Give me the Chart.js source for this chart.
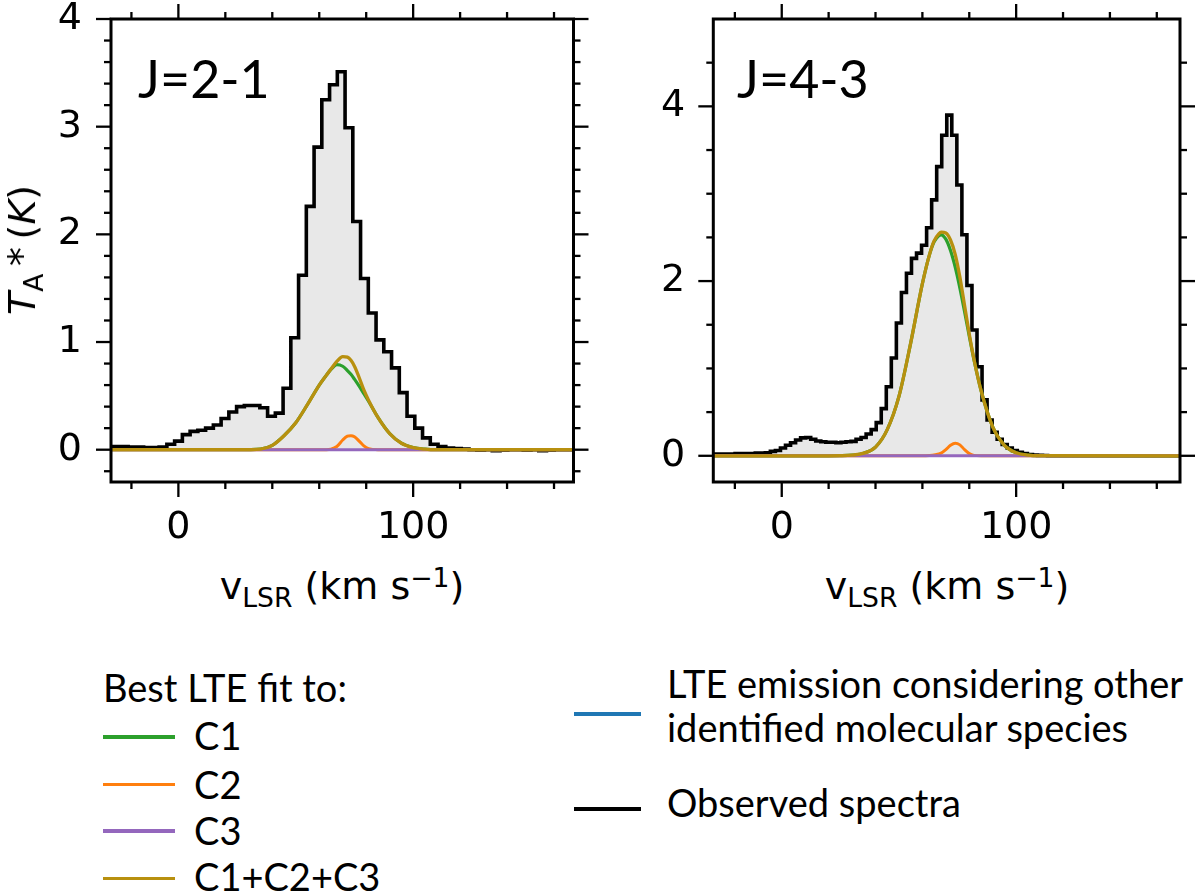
<!DOCTYPE html>
<html>
<head>
<meta charset="utf-8">
<script src="https://cdn.jsdelivr.net/npm/chart.js@4.4.1/dist/chart.umd.min.js"></script>
<style>
  html, body { margin: 0; padding: 0; background: #fff; }
  body { width: 1200px; height: 894px; position: relative; overflow: hidden; }
  canvas { position: absolute; top: 0; }
  .txt { position: absolute; white-space: nowrap; color: #000; line-height: 1; }
  .dv { font-family: 'DejaVu Sans', sans-serif; font-size: 38px; }
  .gs { font-family: 'Lato', sans-serif; font-size: 38px; }
  .sub { font-size: 70%; position: relative; top: 0.3em; }
  .sup { font-size: 70%; position: relative; top: -0.45em; }
  .swatch { position: absolute; height: 3.5px; }
</style>
</head>
<body>
<canvas id="panel21" width="600" height="560" style="left:0px"></canvas>
<canvas id="panel43" width="600" height="560" style="left:600px"></canvas>

<div class="txt dv" style="left:22px; top:250px; transform: translate(-50%, -50%) rotate(-90deg);"><i>T</i><span class="sub">A</span>&#8201;*&#8201;(<i>K</i>)</div>
<div class="txt dv" style="left:342px; top:567px; transform: translateX(-50%);">v<span class="sub">LSR</span> (km s<span class="sup">&#8722;1</span>)</div>
<div class="txt dv" style="left:947px; top:567px; transform: translateX(-50%);">v<span class="sub">LSR</span> (km s<span class="sup">&#8722;1</span>)</div>

<div class="txt gs" style="left:138px; top:52px; font-size:52px;">J=2-1</div>
<div class="txt gs" style="left:737px; top:52px; font-size:52px;">J=4-3</div>

<!-- legend -->
<div class="txt gs" style="left:103px; top:668px;">Best LTE fit to:</div>
<div class="swatch" style="left:103px; top:735px; width:72px; background:#2ca02c;"></div>
<div class="txt gs" style="left:194px; top:716px;">C1</div>
<div class="swatch" style="left:103px; top:782.5px; width:72px; background:#ff7f0e;"></div>
<div class="txt gs" style="left:194px; top:765px;">C2</div>
<div class="swatch" style="left:103px; top:829px; width:72px; background:#9467bd;"></div>
<div class="txt gs" style="left:194px; top:811px;">C3</div>
<div class="swatch" style="left:103px; top:876.5px; width:72px; background:#b8900f;"></div>
<div class="txt gs" style="left:194px; top:857px;">C1+C2+C3</div>

<div class="swatch" style="left:574px; top:712px; width:67px; background:#1f77b4;"></div>
<div class="txt gs" style="left:667px; top:664px;">LTE emission considering other</div>
<div class="txt gs" style="left:667px; top:708px;">identified molecular species</div>
<div class="swatch" style="left:574px; top:807px; width:67px; background:#000;"></div>
<div class="txt gs" style="left:667px; top:783px;">Observed spectra</div>

<script>
// ---- J=2-1 observed spectrum: channel centre (km/s) and T_A* (K)
const vel21 = [-29.65, -26.35, -23.05, -19.75, -16.45, -13.15, -9.85, -6.55, -3.25, 0.05,
  3.35, 6.65, 9.95, 13.25, 16.55, 19.85, 23.15, 26.45, 29.75, 33.05,
  36.35, 39.65, 42.95, 46.25, 49.55, 52.85, 56.15, 59.45, 62.75, 66.05,
  69.35, 72.65, 75.95, 79.25, 82.55, 85.85, 89.15, 92.45, 95.75, 99.05,
  102.35, 105.65, 108.95, 112.25, 115.55, 118.85, 122.15, 125.45, 128.75, 132.05,
  135.35, 138.65, 141.95, 145.25, 148.55, 151.85, 155.15, 158.45, 161.75, 165.05,
  168.35, 171.65];
const obs21 = [0.03, 0.03, 0.03, 0.025, 0.025, 0.02, 0.02, 0.025, 0.05, 0.08,
  0.14, 0.17, 0.18, 0.20, 0.23, 0.29, 0.35, 0.40, 0.41, 0.41,
  0.39, 0.31, 0.34, 0.57, 1.04, 1.62, 2.26, 2.81, 3.25, 3.39,
  3.51, 2.99, 2.12, 1.59, 1.27, 1.02, 0.91, 0.76, 0.53, 0.31,
  0.20, 0.11, 0.05, 0.03, 0.015, 0.01, 0.005, 0, -0.005, 0,
  -0.01, -0.005, 0, 0, -0.005, 0, -0.01, -0.005, 0, 0,
  0, 0];

// ---- J=2-1 LTE fits
const fitVel21 = [-30, 25, 30, 35, 40, 45, 50, 55, 60, 63, 65, 67.5, 70, 72, 73.5, 75, 77, 79, 81, 85, 90, 95, 100, 105, 110, 170];
const c1_21 = [0, 0, 0.001, 0.005, 0.04, 0.13, 0.25, 0.42, 0.60, 0.69, 0.745, 0.79, 0.775, 0.735, 0.70, 0.655, 0.59, 0.52, 0.45, 0.30, 0.15, 0.06, 0.02, 0.005, 0, 0];
const c2_21 = [0, 0, 0, 0, 0, 0, 0, 0, 0, 0, 0.005, 0.03, 0.09, 0.125, 0.13, 0.12, 0.08, 0.035, 0.01, 0, 0, 0, 0, 0, 0, 0];
const c3_21 = [0, 0, 0, 0, 0, 0, 0, 0, 0, 0, 0, 0, 0, 0, 0, 0, 0, 0, 0, 0, 0, 0, 0, 0, 0, 0];
const sum21 = [0, 0, 0.001, 0.005, 0.04, 0.13, 0.25, 0.42, 0.60, 0.69, 0.75, 0.82, 0.865, 0.86, 0.83, 0.775, 0.67, 0.555, 0.46, 0.30, 0.15, 0.06, 0.02, 0.005, 0, 0];

// ---- J=4-3 observed spectrum
const vel43 = [-31.7, -29.6, -27.4, -25.3, -23.1, -21.0, -18.8, -16.7, -14.5, -12.4,
  -10.2, -8.1, -5.9, -3.8, -1.6, 0.5, 2.7, 4.8, 7.0, 9.1,
  11.3, 13.4, 15.6, 17.7, 19.9, 22.0, 24.2, 26.3, 28.5, 30.6,
  32.8, 34.9, 37.1, 39.2, 41.4, 43.5, 45.7, 47.8, 50.0, 52.1,
  54.3, 56.4, 58.6, 60.7, 62.9, 65.0, 67.2, 69.3, 71.5, 73.6,
  75.8, 77.9, 80.1, 82.2, 84.4, 86.5, 88.7, 90.8, 93.0, 95.1,
  97.3, 99.4, 101.6, 103.7, 105.9, 108.0, 110.2, 112.3, 114.5, 116.6,
  118.8, 120.9, 123.1, 125.2, 127.4, 129.5, 131.7, 133.8, 136.0, 138.1,
  140.3, 142.4, 144.6, 146.7, 148.9, 151.0, 153.2, 155.3, 157.5, 159.6,
  161.8, 163.9, 166.1, 168.2, 170.4];
const obs43 = [0.02, 0.02, 0.02, 0.02, 0.02, 0.02, 0.025, 0.025, 0.025, 0.025,
  0.03, 0.03, 0.035, 0.05, 0.06, 0.09, 0.12, 0.15, 0.18, 0.205,
  0.21, 0.19, 0.17, 0.16, 0.155, 0.155, 0.15, 0.155, 0.16, 0.165,
  0.19, 0.21, 0.25, 0.30, 0.38, 0.54, 0.79, 1.12, 1.52, 1.87,
  2.09, 2.26, 2.32, 2.41, 2.61, 2.93, 3.31, 3.67, 3.90, 3.67,
  3.10, 2.53, 1.95, 1.44, 1.02, 0.64, 0.41, 0.27, 0.19, 0.13,
  0.09, 0.06, 0.04, 0.025, 0.015, 0.008, 0.005, 0.003, 0, 0,
  0, 0, 0, 0, 0, 0, 0, 0, 0, 0,
  0, 0, 0, 0, 0, 0, 0, 0, 0, 0,
  0, 0, 0, 0, 0];

// ---- J=4-3 LTE fits
const fitVel43 = [-30, 20, 25, 30, 35, 40, 45, 50, 55, 60, 63, 65, 67, 68, 70, 72, 74, 76, 78, 80, 82, 85, 90, 95, 100, 105, 110, 170];
const c1_43 = [0, 0, 0.001, 0.007, 0.03, 0.10, 0.30, 0.68, 1.29, 1.97, 2.30, 2.45, 2.52, 2.53, 2.48, 2.35, 2.16, 1.92, 1.65, 1.37, 1.10, 0.75, 0.33, 0.12, 0.035, 0.008, 0.001, 0];
const c2_43 = [0, 0, 0, 0, 0, 0, 0, 0, 0, 0, 0.003, 0.008, 0.02, 0.03, 0.07, 0.12, 0.145, 0.125, 0.07, 0.025, 0.005, 0, 0, 0, 0, 0, 0, 0];
const c3_43 = [0, 0, 0, 0, 0, 0, 0, 0, 0, 0, 0, 0, 0, 0, 0, 0, 0, 0, 0, 0, 0, 0, 0, 0, 0, 0, 0, 0];
const sum43 = [0, 0, 0.001, 0.007, 0.03, 0.10, 0.30, 0.68, 1.29, 1.97, 2.30, 2.46, 2.54, 2.56, 2.55, 2.47, 2.305, 2.045, 1.72, 1.395, 1.105, 0.75, 0.33, 0.12, 0.035, 0.008, 0.001, 0];

// ---- ticks
const xMajor = [0, 100];
const xMinor = [-20, 20, 40, 60, 80, 120, 140, 160];
const yMajor21 = [0, 1, 2, 3, 4];
const yMinor21 = [-0.2, 0.2, 0.4, 0.6, 0.8, 1.2, 1.4, 1.6, 1.8, 2.2, 2.4, 2.6, 2.8, 3.2, 3.4, 3.6, 3.8];
const yMajor43 = [0, 2, 4];
const yMinor43 = [0.5, 1, 1.5, 2.5, 3, 3.5, 4.5];

const COLORS = { c1: '#2ca02c', c2: '#ff7f0e', c3: '#9467bd', sum: '#b8900f', obs: '#000000', fill: '#e8e8e8' };

function toXY(xs, ys) {
    return xs.map((x, i) => ({ x: x, y: ys[i] }));
}

// no extra room for the edge labels, the chart area is fixed by padding
function noEdgePadding(s) {
    s.paddingTop = 0;
    s.paddingBottom = 0;
    s.paddingLeft = 0;
    s.paddingRight = 0;
}

// draws the box and the outward ticks on all four sides
function framePlugin(p) {
    return {
        id: 'frameTicks',
        afterDraw(chart) {
            const ctx = chart.ctx;
            const a = chart.chartArea;
            const sx = chart.scales.x, sy = chart.scales.y;
            ctx.save();
            ctx.strokeStyle = '#000';
            ctx.lineWidth = 2.3;
            const seg = (x1, y1, x2, y2) => { ctx.beginPath(); ctx.moveTo(x1, y1); ctx.lineTo(x2, y2); ctx.stroke(); };
            [[p.xMajor, 15], [p.xMinor, 7]].forEach(([vals, len]) => vals.forEach(v => {
                const px = sx.getPixelForValue(v);
                seg(px, a.bottom, px, a.bottom + len);
                seg(px, a.top, px, a.top - len);
            }));
            [[p.yMajor, 15], [p.yMinor, 7]].forEach(([vals, len]) => vals.forEach(v => {
                const py = sy.getPixelForValue(v);
                seg(a.left, py, a.left - len, py);
                seg(a.right, py, a.right + len, py);
            }));
            ctx.lineWidth = 3;
            ctx.strokeRect(a.left, a.top, a.right - a.left, a.bottom - a.top);
            ctx.restore();
        }
    };
}

function buildPanel(id, p) {
    const fitLine = (label, ys, color, order, width) => ({
        label: label,
        data: toXY(p.fitVel, ys),
        borderColor: color,
        borderWidth: width,
        cubicInterpolationMode: 'monotone',
        fill: false,
        order: order
    });
    return new Chart(document.getElementById(id), {
        type: 'line',
        data: {
            datasets: [
                fitLine('C1+C2+C3', p.sum, COLORS.sum, 0, 3.3),
                fitLine('C3', p.c3, COLORS.c3, 1, 3),
                fitLine('C2', p.c2, COLORS.c2, 2, 3),
                fitLine('C1', p.c1, COLORS.c1, 3, 3.2),
                {
                    label: 'Observed spectra',
                    data: toXY(p.vel, p.obs),
                    borderColor: COLORS.obs,
                    borderWidth: 3.6,
                    stepped: 'middle',
                    fill: 'origin',
                    backgroundColor: COLORS.fill,
                    order: 5
                }
            ]
        },
        options: {
            responsive: false,
            animation: false,
            devicePixelRatio: 1,
            layout: { padding: { top: 19, right: p.padRight, left: 0, bottom: 0 } },
            elements: { point: { radius: 0, hoverRadius: 0 } },
            plugins: { legend: { display: false }, tooltip: { enabled: false } },
            scales: {
                x: {
                    type: 'linear',
                    min: p.xMin,
                    max: p.xMax,
                    grid: { display: false },
                    border: { display: false },
                    afterBuildTicks: s => { s.ticks = p.xMajor.map(v => ({ value: v })); },
                    afterFit: s => { s.height = 78; noEdgePadding(s); },
                    ticks: {
                        color: '#000',
                        padding: 15,
                        maxRotation: 0,
                        autoSkip: false,
                        font: { family: 'DejaVu Sans', size: 38 },
                        callback: v => String(v)
                    }
                },
                y: {
                    type: 'linear',
                    min: -0.3,
                    max: p.yMax,
                    grid: { display: false },
                    border: { display: false },
                    afterBuildTicks: s => { s.ticks = p.yMajor.map(v => ({ value: v })); },
                    afterFit: s => { s.width = p.yAxisW; noEdgePadding(s); },
                    ticks: {
                        color: '#000',
                        padding: p.yPad,
                        autoSkip: false,
                        font: { family: 'DejaVu Sans', size: 38 },
                        callback: v => String(v)
                    }
                }
            }
        },
        plugins: [framePlugin(p)]
    });
}

buildPanel('panel21', {
    vel: vel21, obs: obs21,
    fitVel: fitVel21, c1: c1_21, c2: c2_21, c3: c3_21, sum: sum21,
    xMin: -28.7, xMax: 168.3, yMax: 4,
    xMajor: xMajor, xMinor: xMinor, yMajor: yMajor21, yMinor: yMinor21,
    yAxisW: 111, padRight: 26.5, yPad: 21
});

buildPanel('panel43', {
    vel: vel43, obs: obs43,
    fitVel: fitVel43, c1: c1_43, c2: c2_43, c3: c3_43, sum: sum43,
    xMin: -29.2, xMax: 169.9, yMax: 5,
    xMajor: xMajor, xMinor: xMinor, yMajor: yMajor43, yMinor: yMinor43,
    yAxisW: 113.3, padRight: 20, yPad: 20
});
</script>
</body>
</html>
